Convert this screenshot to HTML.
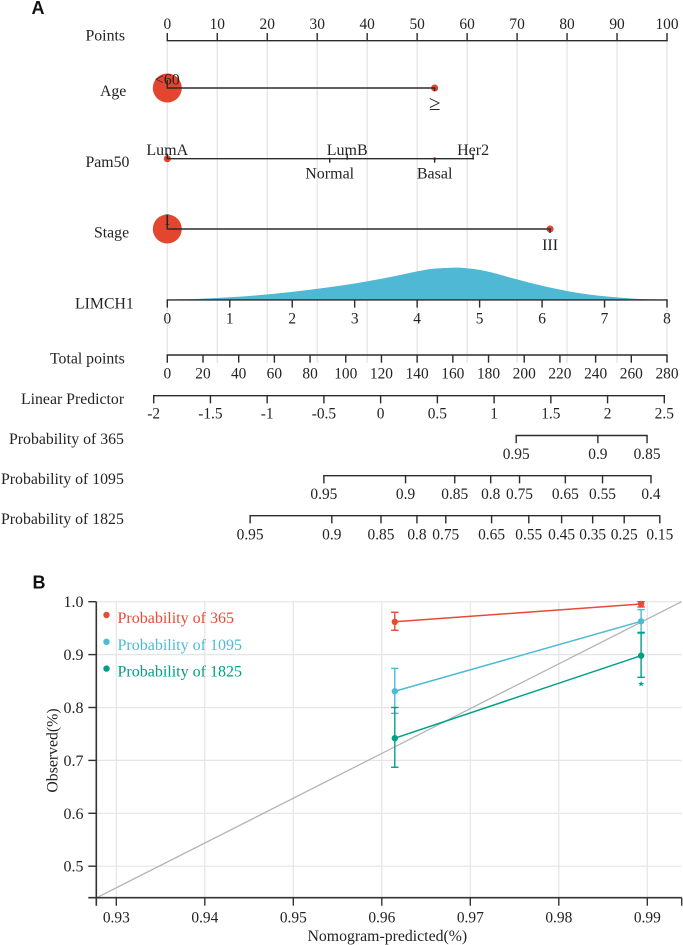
<!DOCTYPE html>
<html lang="en">
<head>
<meta charset="utf-8">
<title>Nomogram and calibration curve</title>
<style>
  html, body { margin: 0; padding: 0; background: #fff; }
  svg { display: block; }
  text { font-family: "Liberation Serif", "DejaVu Serif", serif; fill: #232323; }
  .row-title { font-size: 15.8px; }
  .panel-letter { font-family: "Liberation Sans", sans-serif; font-weight: bold; font-size: 18px; fill: #111; }
</style>
</head>
<body>
<svg id="figure" xmlns="http://www.w3.org/2000/svg" width="683" height="945" viewBox="0 0 683 945">
  <rect x="0" y="0" width="683" height="945" fill="#ffffff"/>
  <g id="nomoGrid"></g>
  <g id="nomo"></g>
  <g id="calib"></g>

  <text class="panel-letter" x="31.5" y="14">A</text>
  <text class="panel-letter" x="32.5" y="588.5">B</text>

  <text class="row-title" x="85.5" y="40.5">Points</text>
  <text class="row-title" x="100" y="96">Age</text>
  <text class="row-title" x="85.5" y="167">Pam50</text>
  <text class="row-title" x="94" y="237.5">Stage</text>
  <text class="row-title" x="75" y="308.5">LIMCH1</text>
  <text class="row-title" x="50" y="363.5">Total points</text>
  <text class="row-title" x="21" y="404">Linear Predictor</text>
  <text class="row-title" x="9" y="444">Probability of 365</text>
  <text class="row-title" x="1" y="484">Probability of 1095</text>
  <text class="row-title" x="1" y="524">Probability of 1825</text>

  <text class="row-title" transform="translate(57.5,750.5) rotate(-90)" text-anchor="middle">Observed(%)</text>
  <text class="row-title" x="307.5" y="941">Nomogram-predicted(%)</text>
</svg>

<script>
// ---------- Nomogram data ----------
const pointTicks = [0, 10, 20, 30, 40, 50, 60, 70, 80, 90, 100];
const ageLevels = ['<60', '\u2265'];
const agePoints = [0, 53.5];
const ageFreq = [1, 0.06];
const pam50Levels = ['LumA', 'Normal', 'LumB', 'Basal', 'Her2'];
const pam50Points = [0, 32.5, 36, 53.5, 61.2];
const pam50Freq = [0.06, 0.005, 0.006, 0.01, 0.005];
const stageLevels = ['I', 'III'];
const stagePoints = [0, 76.6];
const stageFreq = [1, 0.06];
const limchTicks = [0, 1, 2, 3, 4, 5, 6, 7, 8];
const densityX = [0, 0.5, 1, 1.5, 2, 2.5, 3, 3.5, 4, 4.25, 4.58, 4.75, 5, 5.25, 5.5, 6, 6.5, 7, 7.5, 8];
const densityY = [0, 0.008, 0.024, 0.047, 0.078, 0.117, 0.162, 0.218, 0.283, 0.31, 0.32, 0.317, 0.298, 0.263, 0.22, 0.14, 0.076, 0.034, 0.01, 0];
const totalTicks = [0, 20, 40, 60, 80, 100, 120, 140, 160, 180, 200, 220, 240, 260, 280];
const lpTicks = [-2, -1.5, -1, -0.5, 0, 0.5, 1, 1.5, 2, 2.5];
const prob365Ticks = [0.95, 0.9, 0.85];
const prob1095Ticks = [0.95, 0.9, 0.85, 0.8, 0.75, 0.65, 0.55, 0.4];
const prob1825Ticks = [0.95, 0.9, 0.85, 0.8, 0.75, 0.65, 0.55, 0.45, 0.35, 0.25, 0.15];
// linear-predictor shift of each survival horizon: lp = ln(-ln p) + shift
const prob365Shift = 4.165;
const prob1095Shift = 2.47;
const prob1825Shift = 1.82;

// ---------- Calibration data ----------
const calXTicks = [0.93, 0.94, 0.95, 0.96, 0.97, 0.98, 0.99];
const calYTicks = [0.5, 0.6, 0.7, 0.8, 0.9, 1.0];
const predicted = [0.96147, 0.9893];
const seriesNames = ['Probability of 365', 'Probability of 1095', 'Probability of 1825'];
const obs365 = [0.962, 0.9957];
const lo365 = [0.946, 0.99];
const hi365 = [0.98, 1.0];
const obs1095 = [0.8307, 0.963];
const lo1095 = [0.789, 0.94];
const hi1095 = [0.874, 0.985];
const obs1825 = [0.742, 0.898];
const lo1825 = [0.687, 0.857];
const hi1825 = [0.80, 0.942];
const diagonalX = [0.92774, 0.99387];
const diagonalY = [0.44, 1.0];
const starX = [0.9893];
const starY = [0.845];

// ---------- Scales ----------
const SVGNS = 'http://www.w3.org/2000/svg';
const pointsX = v => 167.3 + (v / 100) * 499.7;
const limchX = v => 167.3 + (v / 8) * 499.7;
const totalX = v => 167.3 + (v / 280) * 499.7;
const lpX = v => 153.7 + ((v + 2) / 4.5) * 510.6;
const probX = (p, shift) => lpX(Math.log(-Math.log(p)) + shift);
const densityPx = v => 299.7 - v * 100;
const calX = v => 116.3 + ((v - 0.93) / 0.01) * 88.5;
const calY = v => 601.7 + ((1 - v) / 0.1) * 52.9;
const INK = '#2b2b2b';
const RED = '#E64B35';
const BLUE = '#4DBBD5';
const GREEN = '#00A087';

function make(parent, tag, attrs, name) {
  const el = document.createElementNS(SVGNS, tag);
  for (const k in attrs) el.setAttribute(k, attrs[k]);
  
  
  parent.appendChild(el);
  return el;
}
function line(parent, x1, y1, x2, y2, stroke, w, name) {
  return make(parent, 'line', { x1, y1, x2, y2, stroke, 'stroke-width': w }, name);
}
function label(parent, x, y, str, size, name, extra) {
  const t = make(parent, 'text', Object.assign({ x, y, 'text-anchor': 'middle', 'font-size': size }, extra || {}), name);
  t.textContent = str;
  return t;
}

// ---------- Nomogram ----------
const grid = document.getElementById('nomoGrid');
const nomo = document.getElementById('nomo');

pointTicks.forEach(v => {
  line(grid, pointsX(v), 40, pointsX(v), 363, '#e5e5e5', 1.3, 'points-gridline-' + v);
});

// density curve (smooth path through the read values)
(function () {
  const pts = densityX.map((x, i) => [limchX(x), densityPx(densityY[i])]);
  let d = 'M' + pts[0][0].toFixed(2) + ' ' + pts[0][1].toFixed(2);
  for (let i = 0; i < pts.length - 1; i++) {
    const p0 = pts[Math.max(0, i - 1)], p1 = pts[i], p2 = pts[i + 1], p3 = pts[Math.min(pts.length - 1, i + 2)];
    const c1x = p1[0] + (p2[0] - p0[0]) / 6, c1y = p1[1] + (p2[1] - p0[1]) / 6;
    const c2x = p2[0] - (p3[0] - p1[0]) / 6, c2y = p2[1] - (p3[1] - p1[1]) / 6;
    d += 'C' + c1x.toFixed(2) + ' ' + c1y.toFixed(2) + ' ' + c2x.toFixed(2) + ' ' + c2y.toFixed(2) + ' ' + p2[0].toFixed(2) + ' ' + p2[1].toFixed(2);
  }
  d += 'Z';
  make(nomo, 'path', { d, fill: '#4fb8d4', stroke: 'none' }, 'limch1-density-area');
})();

function horizontalAxis(ticks, xFn, y, tickDir, labelY, fmt, name) {
  const xs = ticks.map(xFn);
  line(nomo, Math.min.apply(null, xs) - 0.7, y, Math.max.apply(null, xs) + 0.7, y, INK, 1.4, name + '-axis-line');
  ticks.forEach((t, i) => {
    line(nomo, xs[i], y, xs[i], y + tickDir * 7.7, INK, 1.4, name + '-tick-' + t);
    label(nomo, xs[i], labelY, fmt ? fmt(t) : String(t), 15.4, name + '-tick-label-' + t);
  });
}
horizontalAxis(pointTicks, pointsX, 40.7, -1, 29, null, 'points');
horizontalAxis(limchTicks, limchX, 299.9, 1, 323.3, null, 'limch1');
horizontalAxis(totalTicks, totalX, 355, 1, 378.5, null, 'total-points');
horizontalAxis(lpTicks, lpX, 395.7, 1, 418.5, null, 'linear-predictor');
horizontalAxis(prob365Ticks, p => probX(p, prob365Shift), 435.5, 1, 459, null, 'probability-365');
horizontalAxis(prob1095Ticks, p => probX(p, prob1095Shift), 475.7, 1, 499, null, 'probability-1095');
horizontalAxis(prob1825Ticks, p => probX(p, prob1825Shift), 515.7, 1, 539.3, null, 'probability-1825');

function radiusFor(freq) { return 14.5 * Math.sqrt(freq); }

function categoricalRow(levels, pts, freq, y, layout, name) {
  const xs = pts.map(pointsX);
  freq.forEach((f, i) => {
    make(nomo, 'circle', { cx: xs[i], cy: y, r: Math.max(radiusFor(f), 1), fill: i === 0 || f > 0.02 ? '#e3452f' : '#c23a2b' }, name + '-frequency-dot-' + i);
  });
  line(nomo, xs[0] - 0.7, y, Math.max.apply(null, xs) + 0.7, y, INK, 1.4, name + '-axis-line');
  levels.forEach((lv, i) => {
    const l = layout[i];
    line(nomo, xs[i], y, xs[i], y + l.tick, INK, 1.4, name + '-tick-' + i);
    label(nomo, xs[i], y + l.text, lv, l.size || 16, name + '-level-label-' + i);
  });
}
categoricalRow(ageLevels, agePoints, ageFreq, 88, [{ tick: -8, text: -3.5 }, { tick: 3, text: 22, size: 21 }], 'age');
categoricalRow(pam50Levels, pam50Points, pam50Freq, 158.7, [
  { tick: -5, text: -3.5 }, { tick: 4, text: 20 }, { tick: -5, text: -3.5 }, { tick: 4, text: 20 }, { tick: -5, text: -3.5 }
], 'pam50');
categoricalRow(stageLevels, stagePoints, stageFreq, 229, [{ tick: -14, text: -4 }, { tick: 4, text: 21 }], 'stage');

// ---------- Calibration ----------
const calib = document.getElementById('calib');
const plotLeft = 96.3, plotRight = 681.7, plotTop = 601.7, plotBottom = 897.7;

calYTicks.forEach(v => {
  line(calib, plotLeft, calY(v), plotRight, calY(v), '#e5e5e5', 1.2, 'y-gridline-' + v);
});
calXTicks.forEach(v => {
  line(calib, calX(v), plotTop, calX(v), plotBottom, '#e5e5e5', 1.2, 'x-gridline-' + v);
});

line(calib, calX(diagonalX[0]), calY(diagonalY[0]), calX(diagonalX[1]), calY(diagonalY[1]), '#b4b4b4', 1.3, 'ideal-diagonal-line');

function drawSeries(obs, lo, hi, color, name) {
  const pts = predicted.map((x, i) => calX(x) + ',' + calY(obs[i])).join(' ');
  make(calib, 'polyline', { points: pts, fill: 'none', stroke: color, 'stroke-width': 1.5 }, name + '-line');
  predicted.forEach((x, i) => {
    const cx = calX(x);
    line(calib, cx, calY(lo[i]), cx, calY(hi[i]), color, 1.4, name + '-error-bar-' + i);
    line(calib, cx - 3.7, calY(lo[i]), cx + 3.7, calY(lo[i]), color, 1.4, name + '-error-cap-low-' + i);
    line(calib, cx - 3.7, calY(hi[i]), cx + 3.7, calY(hi[i]), color, 1.4, name + '-error-cap-high-' + i);
    make(calib, 'circle', { cx, cy: calY(obs[i]), r: 3.2, fill: color }, name + '-point-' + i);
  });
}
drawSeries(obs365, lo365, hi365, RED, 'series-365');
drawSeries(obs1095, lo1095, hi1095, BLUE, 'series-1095');
drawSeries(obs1825, lo1825, hi1825, GREEN, 'series-1825');

starX.forEach((x, i) => {
  label(calib, calX(x), calY(starY[i]) + 3, '\u2605', 8, 'significance-star', { style: 'fill:' + GREEN + ';font-family:"DejaVu Sans",sans-serif' });
});

// axes
line(calib, plotLeft, plotTop, plotLeft, plotBottom + 8, '#333', 1.6, 'y-axis-line');
line(calib, plotLeft - 8, plotBottom, plotRight, plotBottom, '#333', 1.6, 'x-axis-line');
line(calib, plotRight, plotBottom, plotRight, plotBottom + 8, '#333', 1.4, 'x-axis-end-tick');
calYTicks.forEach(v => {
  line(calib, plotLeft - 8, calY(v), plotLeft, calY(v), '#333', 1.4, 'y-tick-' + v);
  label(calib, 73.5, calY(v) + 5.5, v.toFixed(1), 16, 'y-tick-label-' + v);
});
calXTicks.forEach(v => {
  line(calib, calX(v), plotBottom, calX(v), plotBottom + 8, '#333', 1.4, 'x-tick-' + v);
  label(calib, calX(v), 922.5, v.toFixed(2), 15.4, 'x-tick-label-' + v);
});

// legend
const legendColors = [RED, BLUE, GREEN];
seriesNames.forEach((n, i) => {
  const y = 615 + i * 26.8;
  make(calib, 'circle', { cx: 106.5, cy: y, r: 3.2, fill: legendColors[i] }, 'legend-marker-' + i);
  const t = make(calib, 'text', { x: 117.5, y: y + 8, 'font-size': 16, style: 'fill:' + legendColors[i] }, 'legend-entry-' + i);
  t.textContent = n;
});
</script>
</body>
</html>
